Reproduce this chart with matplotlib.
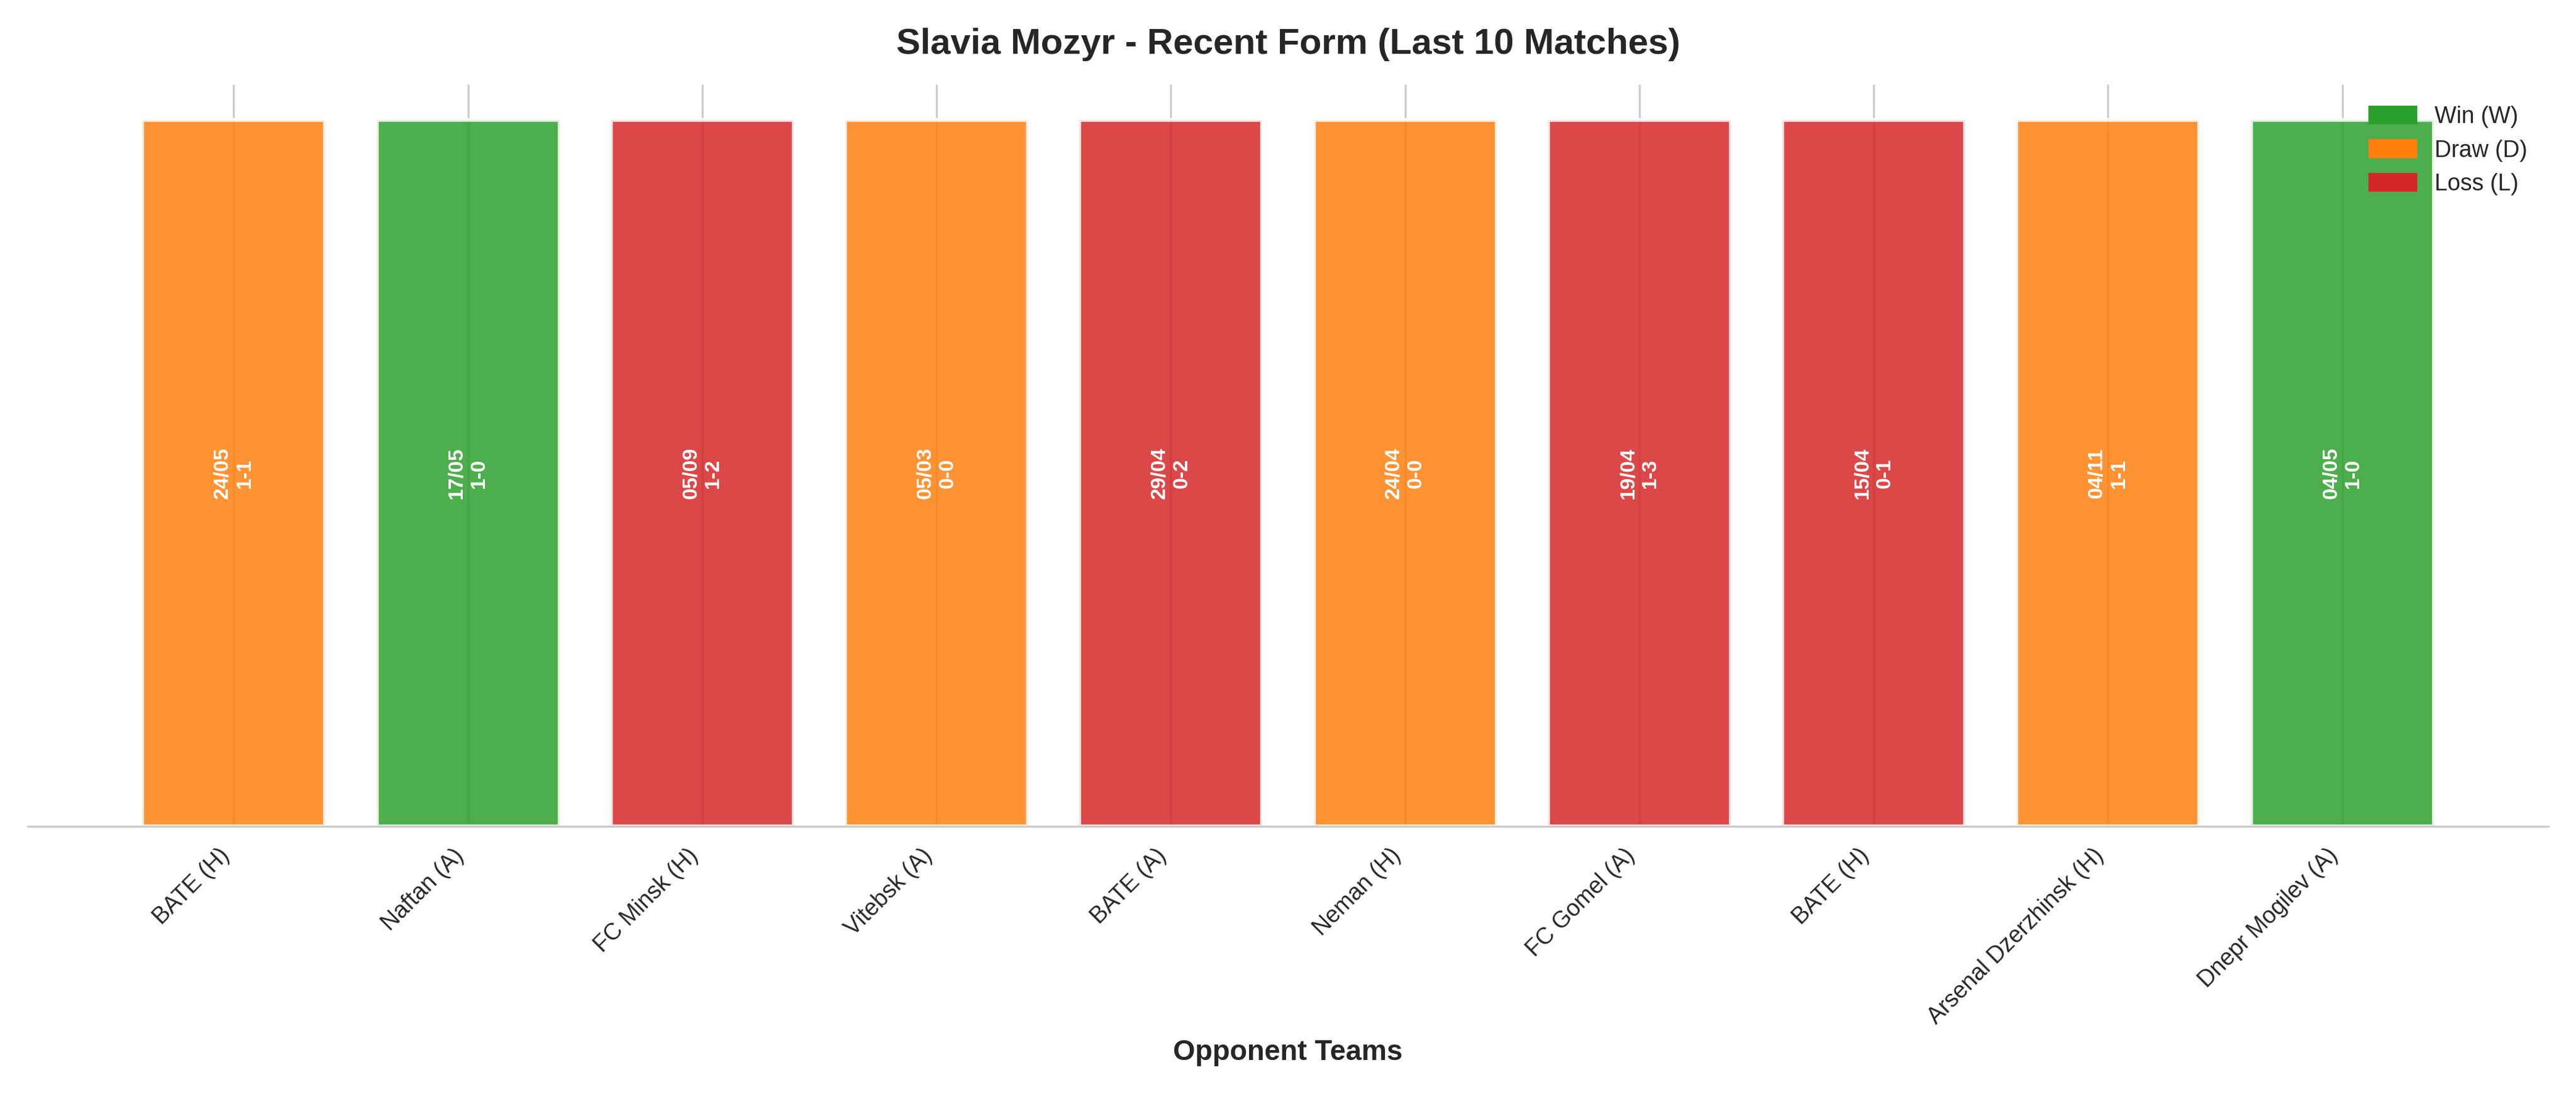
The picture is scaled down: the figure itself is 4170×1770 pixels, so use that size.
import numpy as np
import matplotlib.pyplot as plt
import seaborn as sns
from matplotlib.patches import Patch

sns.set_style('whitegrid')
plt.rcParams['font.family'] = ['Arial', 'Liberation Sans', 'DejaVu Sans']

opponents = ['BATE (H)', 'Naftan (A)', 'FC Minsk (H)', 'Vitebsk (A)', 'BATE (A)',
             'Neman (H)', 'FC Gomel (A)', 'BATE (H)', 'Arsenal Dzerzhinsk (H)', 'Dnepr Mogilev (A)']
results = ['D', 'W', 'L', 'D', 'L', 'D', 'L', 'L', 'D', 'W']
dates = ['24/05', '17/05', '05/09', '05/03', '29/04', '24/04', '19/04', '15/04', '04/11', '04/05']
scores = ['1-1', '1-0', '1-2', '0-0', '0-2', '0-0', '1-3', '0-1', '1-1', '1-0']

colors = {'W': '#2ca02c', 'D': '#ff7f0e', 'L': '#d62728'}

fig, ax = plt.subplots(figsize=(13.9, 5.9), dpi=300)
x = np.arange(len(opponents))
ax.bar(x, np.ones(len(x)), width=0.78, color=[colors[r] for r in results],
       alpha=0.85, edgecolor='white', linewidth=1.5)

for i in x:
    ax.text(i, 0.5, f'{dates[i]}\n{scores[i]}', rotation=90, ha='center', va='center',
            color='white', fontsize=8, fontweight='bold')

ax.set_xticks(x)
ax.set_xticklabels(opponents, rotation=45, ha='right', fontsize=9)
ax.set_yticks([])
ax.set_ylim(0, 1.05)
ax.grid(axis='y', visible=False)
for s in ['top', 'right', 'left']:
    ax.spines[s].set_visible(False)
ax.spines['bottom'].set_color('#cccccc')
ax.set_xlabel('Opponent Teams', fontsize=11, fontweight='bold')
ax.set_title('Slavia Mozyr - Recent Form (Last 10 Matches)', fontsize=14, fontweight='bold', pad=12)

handles = [Patch(color=colors['W'], label='Win (W)'),
           Patch(color=colors['D'], label='Draw (D)'),
           Patch(color=colors['L'], label='Loss (L)')]
ax.legend(handles=handles, loc='upper right', frameon=False, fontsize=9)

plt.tight_layout()
plt.savefig('out.png', dpi=300)
